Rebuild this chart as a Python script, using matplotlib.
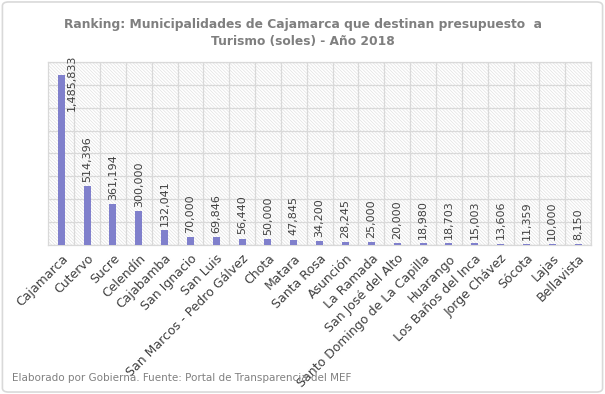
import numpy as np
import matplotlib
matplotlib.use("Agg")
from matplotlib import pyplot
from matplotlib.patches import Rectangle, FancyBboxPatch

# Presupuesto destinado a turismo por municipalidad (soles), 2018
municipios = ["Cajamarca", "Cutervo", "Sucre", "Celendín", "Cajabamba",
              "San Ignacio", "San Luis", "San Marcos - Pedro Gálvez", "Chota",
              "Matara", "Santa Rosa", "Asunción", "La Ramada",
              "San José del Alto", "Santo Domingo de La Capilla", "Huarango",
              "Los Baños del Inca", "Jorge Chávez", "Sócota", "Lajas",
              "Bellavista"]
presupuesto = [1485833, 514396, 361194, 300000, 132041,
               70000, 69846, 56440, 50000,
               47845, 34200, 28245, 25000,
               20000, 18980, 18703,
               15003, 13606, 11359, 10000,
               8150]

pyplot.rcParams['hatch.linewidth'] = 0.5

fig = pyplot.figure(figsize=(6.05, 3.94), dpi=100)
# chart border like the Excel chart area
fig.patches.append(FancyBboxPatch((0.004, 0.005), 0.992, 0.99,
                                  boxstyle="round,pad=0,rounding_size=0.01",
                                  transform=fig.transFigure, fc='white',
                                  ec='#d9d9d9', lw=1.2, zorder=-1))

ax = fig.add_axes([0.0798, 0.378, 0.8972, 0.465])
ax.set_facecolor('none')
x = np.arange(len(municipios))

# hatched plot background
ax.add_patch(Rectangle((0, 0), 1, 1, transform=ax.transAxes, fc='white',
                       ec='#e2e2e2', lw=0, hatch='\\' * 10, zorder=0))

ax.bar(x, presupuesto, width=0.27, color='#8080cc', zorder=3)

ax.set_xlim(-0.5, len(municipios) - 0.5)
ax.set_ylim(0, 1600000)
ax.set_yticks(np.arange(0, 1600001, 200000))
ax.set_xticks(x + 0.5, minor=False)
ax.grid(True, which='major', color='#d9d9d9', lw=0.9, zorder=1)
ax.tick_params(which='both', length=0)
ax.set_yticklabels([])
ax.set_xticklabels([])
ax.set_xticks(x, municipios, minor=True, rotation=45, ha='right',
              rotation_mode='anchor', fontsize=9, color='#404040')
ax.tick_params(axis='x', which='minor', pad=5)
for s in ax.spines.values():
    s.set_color('#d9d9d9')
    s.set_linewidth(0.9)

# data labels
ytop = ax.get_ylim()[1]
for xi, v in zip(x, presupuesto):
    txt = f"{v:,}"
    if v > 0.8 * ytop:
        ax.annotate(txt, (xi, ytop), xytext=(8, 5), textcoords='offset points',
                    rotation=90, ha='center', va='top', fontsize=8,
                    color='#404040', zorder=4)
    else:
        ax.annotate(txt, (xi, v), xytext=(0, 3), textcoords='offset points',
                    rotation=90, ha='center', va='bottom', fontsize=8,
                    color='#404040', zorder=4)

fig.text(0.5, 0.955, "Ranking: Municipalidades de Cajamarca que destinan presupuesto  a\n"
         "Turismo (soles) - Año 2018", ha='center', va='top', fontsize=8.8,
         fontweight='bold', color='#7f7f7f', linespacing=1.4)
fig.text(0.02, 0.033, "Elaborado por Gobierna. Fuente: Portal de Transparencia del MEF",
         ha='left', va='baseline', fontsize=7.5, color='#808080')

pyplot.savefig("out.png", dpi=100)
